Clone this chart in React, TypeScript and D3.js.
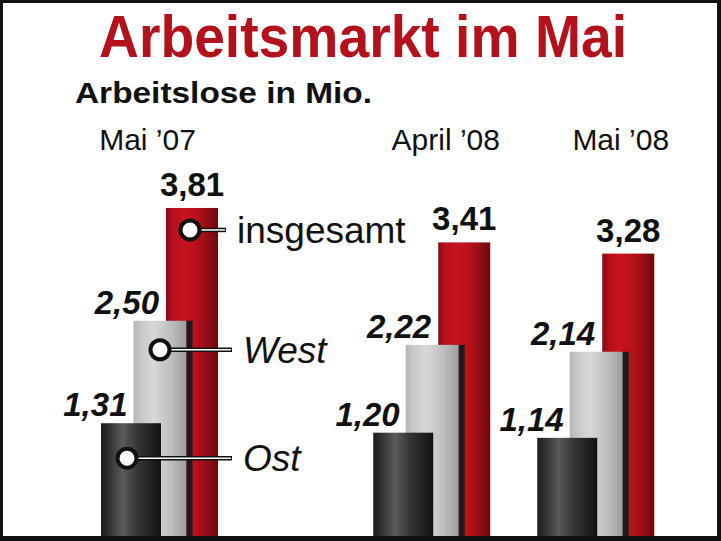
import * as d3 from "d3";

const categories = ["Mai ’07", "April ’08", "Mai ’08"];
const ost = [1.31, 1.2, 1.14];
const west = [2.5, 2.22, 2.14];
const insgesamt = [3.81, 3.41, 3.28];
const seriesNames = ["Ost", "West", "insgesamt"];

// layout only
const W = 721;
const H = 541;
const baseY = 536;
const groupSlot = [0, 1.66, 2.66];
const labelDx = [-12, 14, 25];
const barW = { Ost: 60, West: 53, insgesamt: 52 };
const stripW = 6;
const FONT = "'Liberation Sans', Arial, Helvetica, sans-serif";

const fmt = (v: number) => d3.format(".2f")(v).replace(".", ",");

export default function App() {
  const x = d3.scaleLinear().domain([0, 1]).range([101, 265]);
  const off = d3.scalePoint<string>().domain(seriesNames).range([0, 65]);
  const y = d3.scaleLinear().domain([0, 4]).range([baseY, baseY - 344.4]);

  const groups = categories.map((c, i) => {
    const gx = x(groupSlot[i]);
    const ostX = gx + (off("Ost") ?? 0);
    const westX = gx + (off("West") ?? 0);
    const redX = gx + (off("insgesamt") ?? 0);
    return {
      c,
      i,
      gx,
      ostX,
      westX,
      redX,
      ostTop: y(ost[i]),
      westTop: y(west[i]),
      redTop: y(insgesamt[i]),
    };
  });

  const g0 = groups[0];
  const legend = [
    {
      name: "insgesamt",
      cx: g0.redX + barW.insgesamt / 2 - 2,
      cy: g0.redTop + 22,
      lx: 237,
      italic: false,
    },
    {
      name: "West",
      cx: g0.westX + barW.West / 2,
      cy: g0.westTop + 29,
      lx: 243,
      italic: true,
    },
    {
      name: "Ost",
      cx: g0.ostX + 26,
      cy: g0.ostTop + 35,
      lx: 243,
      italic: true,
    },
  ];

  return (
    <svg
      width={W}
      height={H}
      style={{ position: "absolute", left: 0, top: 0 }}
      fontFamily={FONT}
    >
      <defs>
        <linearGradient id="gRed" x1="0" x2="1" y1="0" y2="0">
          <stop offset="0%" stopColor="#860b13" />
          <stop offset="12%" stopColor="#b3101b" />
          <stop offset="32%" stopColor="#c8131f" />
          <stop offset="58%" stopColor="#b8111b" />
          <stop offset="85%" stopColor="#8c0c13" />
          <stop offset="100%" stopColor="#6a080d" />
        </linearGradient>
        <linearGradient id="gGrey" x1="0" x2="1" y1="0" y2="0">
          <stop offset="0%" stopColor="#b4b4b4" />
          <stop offset="12%" stopColor="#c6c6c6" />
          <stop offset="38%" stopColor="#d8d8d8" />
          <stop offset="72%" stopColor="#bdbdbd" />
          <stop offset="100%" stopColor="#9d9d9d" />
        </linearGradient>
        <linearGradient id="gDark" x1="0" x2="1" y1="0" y2="0">
          <stop offset="0%" stopColor="#1c1c1c" />
          <stop offset="12%" stopColor="#2e2e2e" />
          <stop offset="36%" stopColor="#5a5a5a" />
          <stop offset="62%" stopColor="#343434" />
          <stop offset="100%" stopColor="#121212" />
        </linearGradient>
      </defs>

      <rect x={0} y={0} width={W} height={H} fill="#111" />
      <rect x={3} y={3} width={714} height={baseY - 3} fill="#fff" />

      <text
        x={363}
        y={57}
        textAnchor="middle"
        fontSize={59}
        fontWeight="bold"
        fill="#b3121c"
        textLength={528}
        lengthAdjust="spacingAndGlyphs"
      >
        Arbeitsmarkt im Mai
      </text>
      <text
        x={75}
        y={103}
        fontSize={30}
        fontWeight="bold"
        fill="#111"
        textLength={297}
        lengthAdjust="spacingAndGlyphs"
      >
        Arbeitslose in Mio.
      </text>

      {groups.map((g) => (
        <g key={g.c}>
          <text
            x={g.gx + 58.5 + labelDx[g.i]}
            y={150}
            textAnchor="middle"
            fontSize={30}
            fill="#111"
          >
            {g.c}
          </text>

          {/* insgesamt */}
          <rect
            x={g.redX}
            y={g.redTop}
            width={barW.insgesamt}
            height={baseY - g.redTop}
            fill="url(#gRed)"
          />
          {/* West with shadow strip */}
          <rect
            x={g.westX}
            y={g.westTop}
            width={barW.West}
            height={baseY - g.westTop}
            fill="url(#gGrey)"
          />
          <rect
            x={g.westX + barW.West}
            y={g.westTop}
            width={stripW}
            height={baseY - g.westTop}
            fill="#1b1b1b"
          />
          {/* Ost */}
          <rect
            x={g.ostX}
            y={g.ostTop}
            width={barW.Ost}
            height={baseY - g.ostTop}
            fill="url(#gDark)"
          />

          <text
            x={g.redX + barW.insgesamt / 2}
            y={g.redTop - 12}
            textAnchor="middle"
            fontSize={33}
            fontWeight="bold"
            fill="#111"
          >
            {fmt(insgesamt[g.i])}
          </text>
          <text
            x={g.redX - 7}
            y={g.westTop - 7}
            textAnchor="end"
            fontSize={33}
            fontWeight="bold"
            fontStyle="italic"
            fill="#111"
          >
            {fmt(west[g.i])}
          </text>
          <text
            x={g.westX - 6}
            y={g.ostTop - 7}
            textAnchor="end"
            fontSize={33}
            fontWeight="bold"
            fontStyle="italic"
            fill="#111"
          >
            {fmt(ost[g.i])}
          </text>
        </g>
      ))}

      {legend.map((l) => (
        <g key={l.name}>
          <line
            x1={l.cx + 8}
            x2={l.lx - 11}
            y1={l.cy}
            y2={l.cy}
            stroke="#111"
            strokeWidth={4.5}
          />
          <line
            x1={l.cx + 8}
            x2={l.lx - 12}
            y1={l.cy}
            y2={l.cy}
            stroke="#fff"
            strokeWidth={1.5}
          />
          <circle
            cx={l.cx}
            cy={l.cy}
            r={9.5}
            fill="#fff"
            stroke="#111"
            strokeWidth={4}
          />
          <text
            x={l.lx}
            y={l.cy + 13}
            fontSize={37}
            fontStyle={l.italic ? "italic" : "normal"}
            fill="#111"
          >
            {l.name}
          </text>
        </g>
      ))}
    </svg>
  );
}
